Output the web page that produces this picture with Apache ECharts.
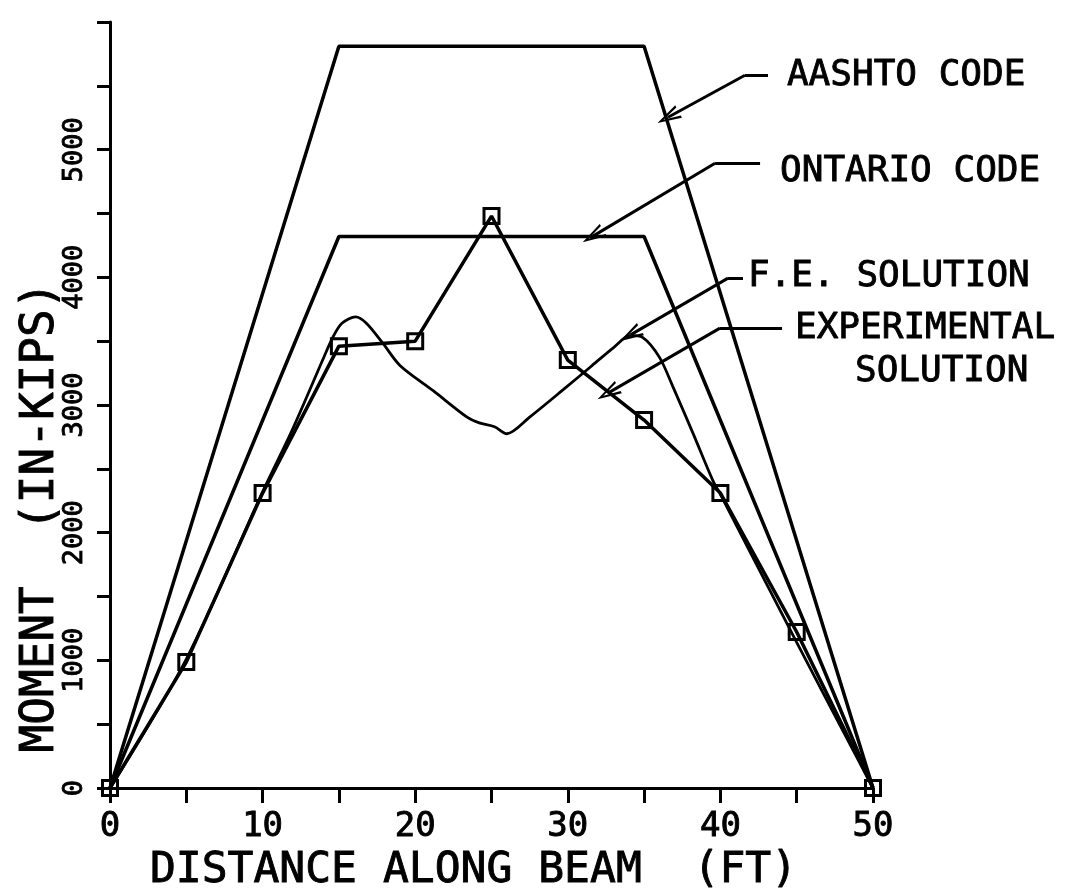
<!DOCTYPE html>
<html><head><meta charset="utf-8">
<script src="https://cdn.jsdelivr.net/npm/echarts@6/dist/echarts.min.js"></script>
<style>html,body{margin:0;padding:0;background:#fff}#c{width:1069px;height:891px}</style>
</head><body><div id="c"></div>
<script>
// ---- data ----
const distances = [0, 5, 10, 15, 20, 25, 30, 35, 40, 45, 50];
const experimental = [0, 986, 2310, 3461, 3500, 4480, 3352, 2882, 2310, 1222, 0];
const aashtoX = [0, 15, 35, 50];
const aashtoY = [0, 5810, 5810, 0];
const ontarioX = [0, 15, 35, 50];
const ontarioY = [0, 4320, 4320, 0];
const feX = [0, 5, 10, 12, 14, 14.6, 15.2, 16.1, 16.8, 17.9, 19, 21.2, 23.4, 24.2, 25.2, 26, 27.5, 29.7, 31.5, 33, 34.1, 34.9, 36, 36.9, 38.2, 39.5, 40, 45, 50];
const feY = [0, 1010, 2320, 2820, 3370, 3530, 3640, 3690, 3640, 3480, 3310, 3110, 2905, 2860, 2830, 2775, 2905, 3120, 3300, 3450, 3545, 3530, 3375, 3140, 2780, 2410, 2300, 1140, 0];
const xTickLabels = [0, 10, 20, 30, 40, 50];
const yTickLabels = [0, 1000, 2000, 3000, 4000, 5000];
const annotationNames = ['AASHTO CODE', 'ONTARIO CODE', 'F.E. SOLUTION', 'EXPERIMENTAL', 'SOLUTION'];
const annotationAnchors = [[44.36, 5583], [43.91, 4824], [41.81, 4002], [44.89, 3602], [48.82, 3258]];
// leader: [end of horizontal, bend, arrow tip]
const leaderEnds = [[43.12, 5583], [42.6, 4894], [41.48, 3994], [44.04, 3602]];
const leaderBends = [[41.61, 5583], [39.65, 4894], [40.5, 3994], [39.97, 3602]];
const leaderTips = [[36.57, 5254], [31.65, 4323], [34.08, 3547], [32.63, 3093]];

const FONT = "'DejaVu Sans Mono', monospace";
const arrowPath = 'path://M5,0 L10,16 L8.3,16 L5,4.5 L1.7,16 L0,16 Z';

const chart = echarts.init(document.getElementById('c'), null, {renderer: 'canvas'});

const leaderData = [];
for (let i = 0; i < leaderEnds.length; i++) {
  leaderData.push([{coord: leaderEnds[i], symbol: 'none'}, {coord: leaderBends[i], symbol: 'none'}]);
  leaderData.push([{coord: leaderBends[i], symbol: 'none'}, {coord: leaderTips[i], symbol: arrowPath, symbolSize: [14, 24]}]);
}

const textEdge = {textBorderColor: '#000', textBorderWidth: 0.9};

const option = {
  animation: false,
  backgroundColor: '#fff',
  grid: {left: 110, right: 196, top: 22, bottom: 103, containLabel: false, outerBoundsMode: 'none'},
  xAxis: {
    type: 'value', min: 0, max: 50, interval: 5,
    name: 'DISTANCE ALONG BEAM  (FT)', nameLocation: 'middle', nameGap: 61, nameMoveOverlap: false,
    nameTextStyle: Object.assign({fontFamily: FONT, fontSize: 43, color: '#000', padding: [0, 36, 0, 0]}, textEdge),
    axisLine: {lineStyle: {color: '#000', width: 3}},
    axisTick: {show: true, length: 15, inside: false, lineStyle: {color: '#000', width: 3}},
    axisLabel: Object.assign({
      margin: 22, fontFamily: FONT, fontSize: 34, color: '#000',
      formatter: v => xTickLabels.includes(v) ? String(v) : ''
    }, textEdge),
    splitLine: {show: false}
  },
  yAxis: {
    type: 'value', min: 0, max: 6000, interval: 500,
    name: 'MOMENT  (IN-KIPS)', nameLocation: 'middle', nameGap: 46, nameRotate: 90, nameMoveOverlap: false,
    nameTextStyle: Object.assign({fontFamily: FONT, fontSize: 46, color: '#000', padding: [0, 224, 0, 0]}, textEdge),
    axisLine: {lineStyle: {color: '#000', width: 3}},
    axisTick: {show: true, length: 13, inside: false, lineStyle: {color: '#000', width: 3}},
    axisLabel: Object.assign({
      rotate: 90, margin: 22, fontFamily: FONT, fontSize: 27, color: '#000',
      formatter: v => yTickLabels.includes(v) ? String(v) : ''
    }, textEdge),
    splitLine: {show: false}
  },
  series: [
    {
      name: 'AASHTO CODE', type: 'line', showSymbol: false, silent: true,
      data: aashtoX.map((x, i) => [x, aashtoY[i]]),
      lineStyle: {color: '#000', width: 3.5},
      itemStyle: {color: '#000'},
      markLine: {
        silent: true, symbol: ['none', 'none'], label: {show: false},
        lineStyle: {color: '#000', width: 3, type: 'solid'},
        emphasis: {disabled: true},
        data: leaderData
      }
    },
    {
      name: 'ONTARIO CODE', type: 'line', showSymbol: false, silent: true,
      data: ontarioX.map((x, i) => [x, ontarioY[i]]),
      lineStyle: {color: '#000', width: 3.5},
      itemStyle: {color: '#000'}
    },
    {
      name: 'F.E. SOLUTION', type: 'line', showSymbol: false, silent: true, smooth: 0.3,
      data: feX.map((x, i) => [x, feY[i]]),
      lineStyle: {color: '#000', width: 2.8},
      itemStyle: {color: '#000'}
    },
    {
      name: 'EXPERIMENTAL SOLUTION', type: 'line', silent: true,
      data: distances.map((x, i) => [x, experimental[i]]),
      symbol: 'rect', symbolSize: 15, showSymbol: true,
      lineStyle: {color: '#000', width: 3.5},
      itemStyle: {color: 'rgba(255,255,255,0)', borderColor: '#000', borderWidth: 3}
    }
  ]
};
chart.setOption(option);

const graphic = annotationNames.map((t, i) => {
  const p = chart.convertToPixel({xAxisIndex: 0, yAxisIndex: 0}, annotationAnchors[i]);
  return {
    type: 'text', x: p[0], y: p[1], silent: true,
    style: {text: t, font: "36px 'DejaVu Sans Mono', monospace", fill: '#000',
            stroke: '#000', lineWidth: 0.9,
            textAlign: 'left', textVerticalAlign: 'middle', align: 'left', verticalAlign: 'middle'}
  };
});
chart.setOption({graphic: graphic});
</script></body></html>
